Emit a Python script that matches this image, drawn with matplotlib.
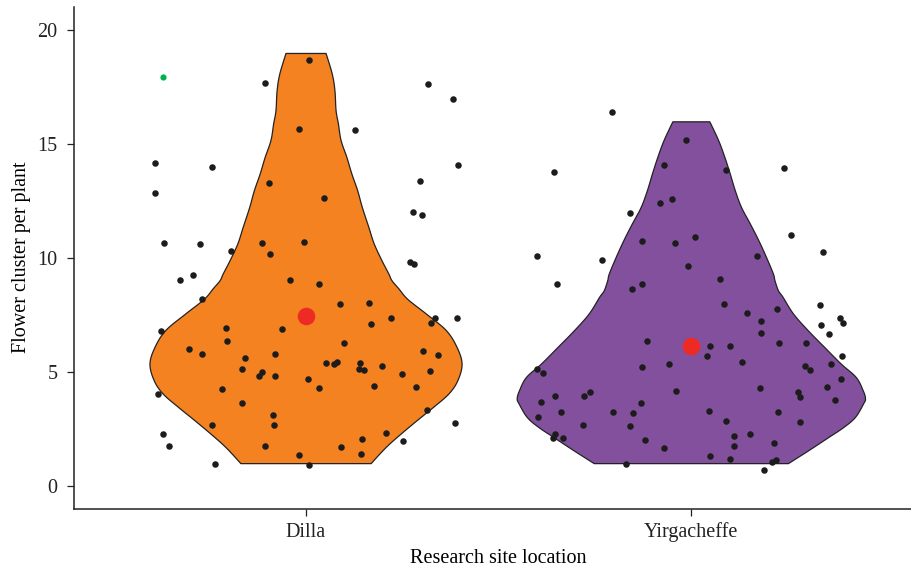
import matplotlib
matplotlib.use("Agg")
import matplotlib.pyplot as plt
import numpy as np

plt.rcParams["font.family"] = ["Liberation Serif", "DejaVu Serif"]

sites = ["Dilla", "Yirgacheffe"]
violin_colors = ["#F48221", "#83509D"]

# jittered observations: horizontal jitter and flower clusters per plant
dilla_jitter = [
    -0.105, 0.010, -0.018, -0.390, -0.244, -0.390, -0.095, -0.367, -0.274, -0.193,
    -0.114, -0.093, -0.004, -0.327, -0.293, -0.040, 0.319, 0.383, 0.128, 0.397,
    0.296, 0.049, 0.278, 0.301, 0.270, 0.282, 0.034, -0.268, -0.376, -0.206,
    -0.061, -0.204, -0.302, -0.269, -0.158, -0.078, -0.164, -0.114, -0.120, -0.079,
    0.006, -0.218, -0.384, -0.164, -0.085, -0.244, -0.081, -0.369, -0.355, -0.105,
    -0.016, -0.236, 0.008, 0.090, 0.165, 0.221, 0.169, 0.337, 0.393, 0.325,
    0.101, 0.304, 0.344, 0.052, 0.075, 0.081, 0.141, 0.140, 0.151, 0.198,
    0.250, 0.322, 0.036, 0.177, 0.286, 0.314, 0.388, 0.209, 0.254, 0.147,
    0.091, 0.144,
]
dilla_values = [
    17.68, 18.69, 15.67, 14.18, 13.98, 12.86, 13.30, 10.65, 10.62, 10.29,
    10.67, 10.16, 10.71, 9.04, 9.26, 9.04, 17.63, 16.99, 15.63, 14.09,
    13.38, 12.63, 12.00, 11.91, 9.83, 9.76, 8.84, 8.21, 6.82, 6.91,
    6.87, 6.34, 6.01, 5.79, 5.62, 5.78, 5.15, 4.98, 4.82, 4.83,
    4.71, 4.26, 4.04, 3.66, 3.13, 2.66, 2.66, 2.28, 1.76, 1.76,
    1.35, 0.97, 0.90, 7.98, 8.01, 7.36, 7.11, 7.37, 7.39, 7.17,
    6.28, 5.90, 5.75, 5.39, 5.33, 5.42, 5.39, 5.15, 5.08, 5.25,
    4.90, 5.05, 4.28, 4.38, 4.32, 3.32, 2.74, 2.34, 1.95, 2.05,
    1.70, 1.40,
]
yirga_jitter = [
    -0.204, -0.354, -0.012, -0.070, 0.092, 0.242, -0.158, -0.079, -0.049, -0.398,
    -0.231, -0.127, -0.042, 0.011, 0.260, 0.342, 0.171, -0.008, 0.075, -0.348,
    -0.152, -0.127, -0.115, -0.128, -0.057, -0.398, -0.383, -0.039, -0.353, -0.388,
    -0.277, -0.263, -0.130, -0.338, -0.396, -0.201, -0.151, -0.281, -0.158, -0.353,
    -0.359, -0.331, -0.120, -0.069, -0.169, 0.086, 0.147, 0.223, 0.183, 0.183,
    0.335, 0.338, 0.359, 0.387, 0.396, 0.051, 0.101, 0.043, 0.133, 0.228,
    0.299, 0.391, 0.295, 0.309, 0.364, 0.389, 0.354, 0.375, 0.180, 0.278,
    0.282, 0.047, 0.227, 0.090, 0.283, 0.112, 0.153, 0.112, 0.217, 0.051,
    0.101, 0.210, 0.222, 0.189,
]
yirga_values = [
    16.40, 13.77, 15.18, 14.08, 13.86, 13.96, 11.96, 12.40, 12.60, 10.11,
    9.91, 10.73, 10.64, 10.92, 10.99, 10.26, 10.10, 9.63, 9.10, 8.84,
    8.65, 8.84, 6.35, 5.21, 5.33, 5.12, 4.95, 4.16, 3.95, 3.70,
    3.94, 4.10, 3.64, 3.25, 3.03, 3.24, 3.20, 2.68, 2.62, 2.28,
    2.12, 2.11, 2.02, 1.67, 0.94, 7.98, 7.59, 7.77, 7.24, 6.73,
    7.92, 7.07, 6.67, 7.39, 7.16, 6.15, 6.13, 5.68, 5.44, 6.25,
    6.25, 5.71, 5.25, 5.09, 5.36, 4.68, 4.32, 3.78, 4.30, 4.13,
    3.92, 3.27, 3.25, 2.84, 2.81, 2.17, 2.30, 1.74, 1.89, 1.33,
    1.17, 1.05, 1.14, 0.69,
]

# single highlighted observation (green)
flagged_jitter = [-0.369]
flagged_values = [17.95]

site_means = [7.45, 6.13]

# violin density profiles: level and half width
dilla_prof_y = [1.00, 1.71, 2.30, 2.88, 3.47, 4.06, 4.64, 5.37, 6.10, 6.84,
                7.57, 8.21, 8.67, 9.03, 9.32, 9.91, 10.64, 11.37, 12.25, 12.98,
                13.71, 14.44, 15.18, 15.91, 16.49, 17.37, 18.10, 19.00]
dilla_prof_w = [0.169, 0.208, 0.247, 0.288, 0.331, 0.371, 0.394, 0.405, 0.392, 0.364,
                0.312, 0.264, 0.241, 0.223, 0.215, 0.197, 0.177, 0.163, 0.146, 0.134,
                0.119, 0.106, 0.091, 0.084, 0.078, 0.075, 0.068, 0.052]
yirga_prof_y = [1.00, 1.57, 2.15, 2.59, 3.03, 3.62, 3.85, 4.20, 4.78, 5.37,
                6.10, 6.84, 7.57, 8.30, 8.59, 9.03, 9.32, 10.05, 10.79, 11.52,
                12.25, 12.98, 13.71, 14.44, 15.17, 16.00]
yirga_prof_w = [0.252, 0.305, 0.357, 0.396, 0.426, 0.447, 0.452, 0.446, 0.428, 0.389,
                0.346, 0.303, 0.265, 0.238, 0.226, 0.217, 0.213, 0.195, 0.175, 0.153,
                0.130, 0.114, 0.101, 0.087, 0.071, 0.048]


def smooth_outline(y, w, steps=12):
    # Catmull-Rom through the profile points so the outline is not jagged
    y = np.asarray(y, float)
    w = np.asarray(w, float)
    yp = np.concatenate([[y[0]], y, [y[-1]]])
    wp = np.concatenate([[w[0]], w, [w[-1]]])
    ys, ws = [], []
    for i in range(1, len(yp) - 2):
        t = np.linspace(0, 1, steps, endpoint=False)
        for arr, out in ((yp, ys), (wp, ws)):
            p0, p1, p2, p3 = arr[i - 1], arr[i], arr[i + 1], arr[i + 2]
            out.append(0.5 * (2 * p1 + (-p0 + p2) * t
                              + (2 * p0 - 5 * p1 + 4 * p2 - p3) * t ** 2
                              + (-p0 + 3 * p1 - 3 * p2 + p3) * t ** 3))
    ys.append([y[-1]])
    ws.append([w[-1]])
    return np.concatenate(ys), np.concatenate(ws)


fig = plt.figure(figsize=(9.12, 5.68), dpi=100)
ax = fig.add_axes([0.0815, 0.1044, 0.9295, 0.8838])

profiles = [(dilla_prof_y, dilla_prof_w), (yirga_prof_y, yirga_prof_w)]
for i, (py, pw) in enumerate(profiles):
    c = i + 1
    sy, sw = smooth_outline(py, pw)
    ax.fill_betweenx(sy, c - sw, c + sw, facecolor=violin_colors[i],
                     edgecolor="#222222", linewidth=0.9, zorder=1)

groups = [(dilla_jitter, dilla_values), (yirga_jitter, yirga_values)]
for i, (jx, vy) in enumerate(groups):
    ax.scatter(i + 1 + np.array(jx), vy, s=22, color="#1c1c1c",
               linewidths=0, zorder=3)

ax.scatter(1 + np.array(flagged_jitter), flagged_values, s=20, color="#00B04F",
           linewidths=0, zorder=3)
ax.scatter([1, 2], site_means, s=160, color="#EE2A24", linewidths=0, zorder=4)

ax.set_xlim(0.4, 2.6)
ax.set_ylim(-1.0, 21.03)
ax.set_xticks([1, 2])
ax.set_xticklabels(sites)
ax.set_yticks([0, 5, 10, 15, 20])

for side in ["top", "right"]:
    ax.spines[side].set_visible(False)
for side in ["left", "bottom"]:
    ax.spines[side].set_linewidth(1.1)
    ax.spines[side].set_color("#222222")

ax.tick_params(axis="both", labelsize=14.5, colors="#222222", length=5,
               width=0.9, labelcolor="#222222")
ax.tick_params(axis="y", pad=7)
ax.tick_params(axis="x", pad=5)

ax.set_xlabel("Research site location", fontsize=14.5, labelpad=5)
ax.set_ylabel("Flower cluster per plant", fontsize=14.5, labelpad=5)

fig.savefig("out.png", dpi=100)
